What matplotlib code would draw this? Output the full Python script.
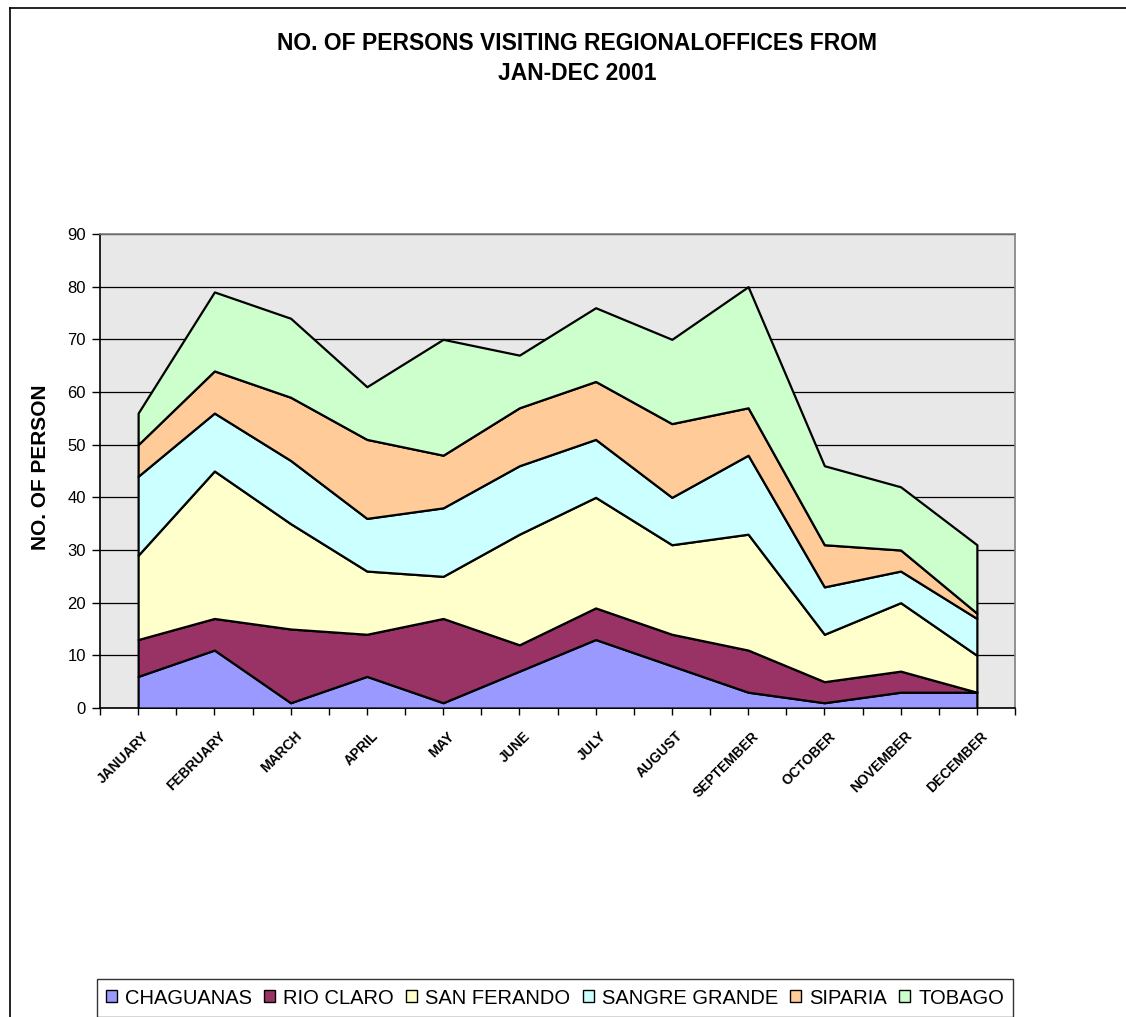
import matplotlib
matplotlib.use("Agg")
import matplotlib.pyplot as plt
from matplotlib.patches import Rectangle
import numpy as np

plt.rcParams["font.family"] = ["Liberation Sans", "DejaVu Sans"]

# ---------------------------------------------------------------------------
# Data (persons per office per month)
# ---------------------------------------------------------------------------
months = ["JANUARY", "FEBRUARY", "MARCH", "APRIL", "MAY", "JUNE",
          "JULY", "AUGUST", "SEPTEMBER", "OCTOBER", "NOVEMBER", "DECEMBER"]

chaguanas     = [6, 11, 1, 6, 1, 7, 13, 8, 3, 1, 3, 3]
rio_claro     = [7, 6, 14, 8, 16, 5, 6, 6, 8, 4, 4, 0]
san_ferando   = [16, 28, 20, 12, 8, 21, 21, 17, 22, 9, 13, 7]
sangre_grande = [15, 11, 12, 10, 13, 13, 11, 9, 15, 9, 6, 7]
siparia       = [6, 8, 12, 15, 10, 11, 11, 14, 9, 8, 4, 1]
tobago        = [6, 15, 15, 10, 22, 10, 14, 16, 23, 15, 12, 13]

offices = ["CHAGUANAS", "RIO CLARO", "SAN FERANDO", "SANGRE GRANDE", "SIPARIA", "TOBAGO"]
colors = ["#9999FF", "#993366", "#FFFFCC", "#CCFFFF", "#FFCC99", "#CCFFCC"]

# ---------------------------------------------------------------------------
# Figure
# ---------------------------------------------------------------------------
W, H = 1126, 1017
fig = plt.figure(figsize=(W / 100, H / 100), dpi=100)
fig.patch.set_facecolor("white")

# outer chart border (top and left visible)
fig.add_artist(plt.Line2D([10 / W, 1.0], [1 - 8 / H, 1 - 8 / H], color="black", lw=1.2))
fig.add_artist(plt.Line2D([10 / W, 10 / W], [0.0, 1 - 8 / H], color="black", lw=1.2))

ax = fig.add_axes([100 / W, 1 - 708 / H, 915 / W, 474 / H])
ax.set_facecolor("#e8e8e8")

x = np.arange(len(months))
ax.stackplot(x, chaguanas, rio_claro, san_ferando, sangre_grande, siparia, tobago,
             labels=offices, colors=colors, edgecolor="black", linewidth=1.6,
             zorder=3)

ax.set_xlim(-0.5, len(months) - 0.5)
ax.set_ylim(0, 90)
ax.set_yticks(range(0, 91, 10))
ax.yaxis.grid(True, color="black", linewidth=0.9, zorder=1)
ax.set_axisbelow(True)

xt = np.arange(-0.5, len(months), 0.5)
ax.set_xticks(xt)
ax.set_xticklabels([""] * len(xt))
ax.tick_params(axis="x", direction="out", length=5, width=1, color="black")
ax.tick_params(axis="y", direction="out", length=6, width=1, color="black",
               labelsize=12, pad=4)

for i, m in enumerate(months):
    ax.text(i + 0.05, -4.0, m, rotation=45, ha="right", va="top",
            rotation_mode="anchor", fontsize=10, fontweight="bold",
            transform=ax.transData, clip_on=False)

for side in ("top", "right"):
    ax.spines[side].set_color("#808080")
    ax.spines[side].set_linewidth(1.2)
for side in ("left", "bottom"):
    ax.spines[side].set_color("black")
    ax.spines[side].set_linewidth(1.2)

# y-axis label, cut off at the top as in the original
fig.text(41 / W, 1 - 460 / H, "NO. OF PERSONS", rotation=90,
         ha="center", va="center", fontsize=15, fontweight="bold")
fig.add_artist(Rectangle((20 / W, 1 - 386 / H), 40 / W, 40 / H,
                         transform=fig.transFigure, facecolor="white",
                         edgecolor="none", zorder=10))

fig.text(577 / W, 1 - 43 / H, "NO. OF PERSONS VISITING REGIONALOFFICES FROM",
         ha="center", va="center", fontsize=16.5, fontweight="bold")
fig.text(577 / W, 1 - 73 / H, "JAN-DEC 2001",
         ha="center", va="center", fontsize=16.5, fontweight="bold")

leg = fig.legend(loc="center", bbox_to_anchor=(555 / W, 1 - 998 / H), ncol=6,
                 fontsize=14.5, frameon=True, fancybox=False, edgecolor="black",
                 handlelength=0.55, handleheight=0.55, handletextpad=0.4,
                 columnspacing=0.6, borderpad=0.45)
leg.get_frame().set_linewidth(1.0)
for h in leg.legend_handles:
    h.set_edgecolor("black")
    h.set_linewidth(1.0)

fig.savefig("out.png", dpi=100)
